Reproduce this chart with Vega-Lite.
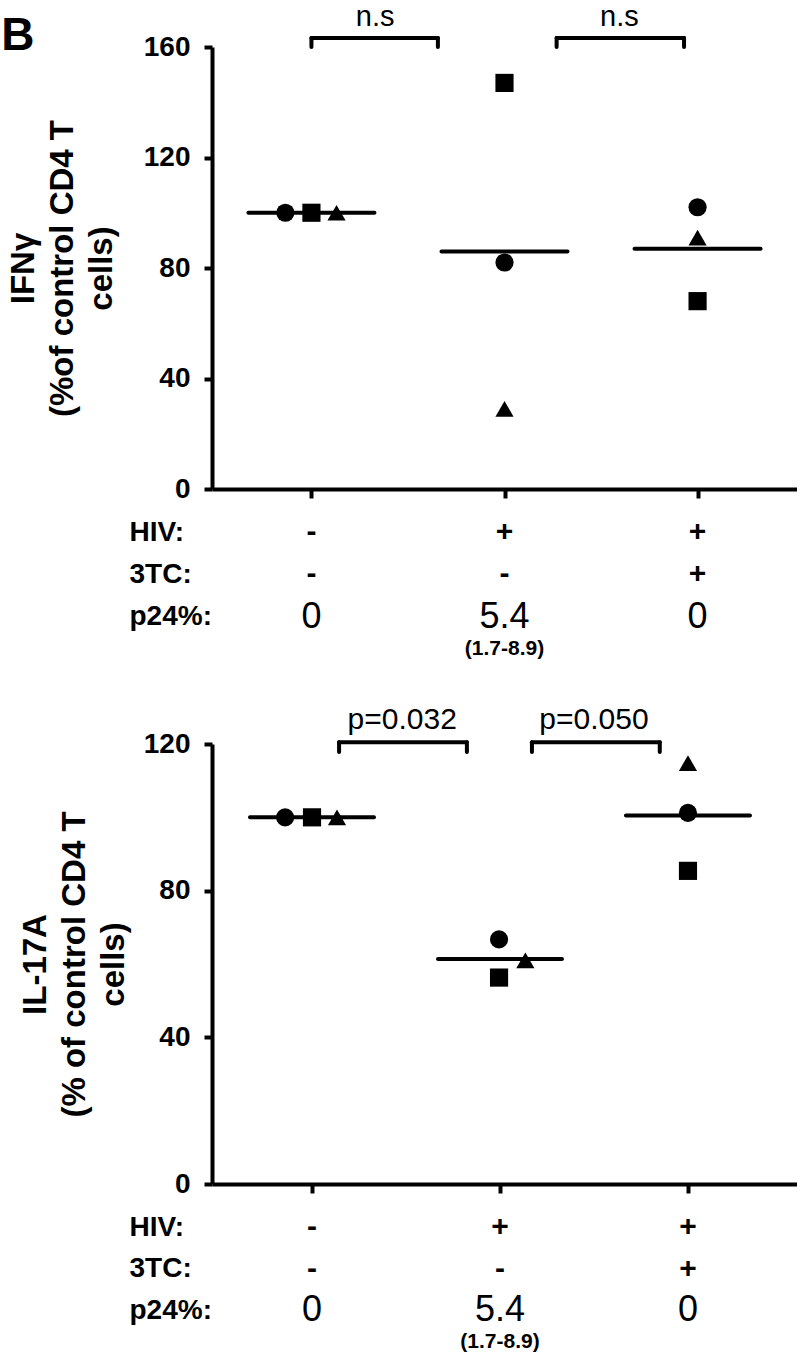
{
  "$schema": "https://vega.github.io/schema/vega-lite/v6.json",
  "padding": {"left": 1, "top": 3, "right": 0, "bottom": 0},
  "title": {"text": "B", "anchor": "start", "frame": "bounds", "fontSize": 46, "fontWeight": "bold", "font": "Liberation Sans", "color": "black", "offset": -57, "dx": -6},
  "config": {
    "font": "Liberation Sans",
    "view": {"stroke": null},
    "axis": {"domainColor": "black", "tickColor": "black", "labelColor": "black", "titleColor": "black", "grid": false, "domainWidth": 4, "tickWidth": 4, "tickSize": 8}
  },
  "bounds": "flush",
  "spacing": 43,
  "datasets": {
    "ifng": [
      {"donor": "circle", "group": 1, "x": 0.865, "value": 100},
      {"donor": "square", "group": 1, "x": 1.0, "value": 100},
      {"donor": "triangle", "group": 1, "x": 1.13, "value": 100},
      {"donor": "circle", "group": 2, "x": 2.0, "value": 82},
      {"donor": "square", "group": 2, "x": 2.0, "value": 147},
      {"donor": "triangle", "group": 2, "x": 2.0, "value": 29},
      {"donor": "circle", "group": 3, "x": 3.0, "value": 102},
      {"donor": "square", "group": 3, "x": 3.0, "value": 68},
      {"donor": "triangle", "group": 3, "x": 3.0, "value": 91}
    ],
    "il17": [
      {"donor": "circle", "group": 1, "x": 0.857, "value": 100},
      {"donor": "square", "group": 1, "x": 1.0, "value": 100},
      {"donor": "triangle", "group": 1, "x": 1.133, "value": 100},
      {"donor": "circle", "group": 2, "x": 1.995, "value": 66.7},
      {"donor": "square", "group": 2, "x": 1.995, "value": 56.3},
      {"donor": "triangle", "group": 2, "x": 2.135, "value": 61},
      {"donor": "circle", "group": 3, "x": 3.0, "value": 101.2},
      {"donor": "square", "group": 3, "x": 3.0, "value": 85.4},
      {"donor": "triangle", "group": 3, "x": 3.0, "value": 114.8}
    ],
    "brk_top": [
      {"x1": 1.0, "x2": 1.655, "yBar": 163.3, "yEnd": 160, "xm": 1.33, "yText": 167.6, "label": "n.s"},
      {"x1": 2.27, "x2": 2.93, "yBar": 163.3, "yEnd": 160, "xm": 2.595, "yText": 167.6, "label": "n.s"}
    ],
    "brk_bot": [
      {"x1": 1.144, "x2": 1.824, "yBar": 120.5, "yEnd": 117.8, "xm": 1.48, "yText": 124.1, "label": "p=0.032"},
      {"x1": 2.17, "x2": 2.85, "yBar": 120.5, "yEnd": 117.8, "xm": 2.5, "yText": 124.1, "label": "p=0.050"}
    ],
    "table": [
      {"group": 1, "row": "HIV", "kind": "sign", "text": "-"},
      {"group": 2, "row": "HIV", "kind": "sign", "text": "+"},
      {"group": 3, "row": "HIV", "kind": "sign", "text": "+"},
      {"group": 1, "row": "3TC", "kind": "sign", "text": "-"},
      {"group": 2, "row": "3TC", "kind": "sign", "text": "-"},
      {"group": 3, "row": "3TC", "kind": "sign", "text": "+"},
      {"group": 1, "row": "p24", "kind": "value", "text": "0"},
      {"group": 2, "row": "p24", "kind": "value", "text": "5.4"},
      {"group": 3, "row": "p24", "kind": "value", "text": "0"},
      {"group": 2, "row": "p24", "kind": "range", "text": "(1.7-8.9)"}
    ]
  },
  "vconcat": [
    {
      "width": 585, "height": 442,
      "layer": [
        {
          "data": {"name": "ifng"},
          "mark": {"type": "tick", "orient": "horizontal", "size": 130, "thickness": 4, "color": "black", "cornerRadius": 2},
          "encoding": {
            "x": {"field": "group", "type": "quantitative", "scale": {"domain": [0.485, 3.515], "nice": false, "zero": false},
                  "axis": {"values": [1, 2, 3], "labels": false, "title": null, "tickSize": 9}},
            "y": {"aggregate": "mean", "field": "value", "type": "quantitative", "scale": {"domain": [0, 160], "nice": false},
                  "axis": {"values": [0, 40, 80, 120, 160], "title": ["IFNγ", "(%of control CD4 T", "cells)"], "titleFontSize": 33, "titleFontWeight": "bold", "titleLineHeight": 39, "titlePadding": 25, "labelFontSize": 28, "labelFontWeight": "bold", "labelPadding": 14}}
          }
        },
        {
          "data": {"name": "ifng"},
          "mark": {"type": "point", "filled": true, "color": "black", "opacity": 1, "size": 330},
          "encoding": {
            "x": {"field": "x", "type": "quantitative"},
            "y": {"field": "value", "type": "quantitative"},
            "shape": {"field": "donor", "type": "nominal", "scale": {"domain": ["circle", "square", "triangle"], "range": ["circle", "square", "triangle-up"]}, "legend": null}
          }
        },
        {
          "data": {"name": "brk_top"},
          "mark": {"type": "rule", "strokeWidth": 4, "color": "black", "strokeCap": "round"},
          "encoding": {"x": {"field": "x1", "type": "quantitative"}, "x2": {"field": "x2"}, "y": {"field": "yBar", "type": "quantitative"}}
        },
        {
          "data": {"name": "brk_top"},
          "mark": {"type": "rule", "strokeWidth": 4, "color": "black", "strokeCap": "round"},
          "encoding": {"x": {"field": "x1", "type": "quantitative"}, "y": {"field": "yBar", "type": "quantitative"}, "y2": {"field": "yEnd"}}
        },
        {
          "data": {"name": "brk_top"},
          "mark": {"type": "rule", "strokeWidth": 4, "color": "black", "strokeCap": "round"},
          "encoding": {"x": {"field": "x2", "type": "quantitative"}, "y": {"field": "yBar", "type": "quantitative"}, "y2": {"field": "yEnd"}}
        },
        {
          "data": {"name": "brk_top"},
          "mark": {"type": "text", "fontSize": 29, "baseline": "alphabetic", "color": "black"},
          "encoding": {"x": {"field": "xm", "type": "quantitative"}, "y": {"field": "yText", "type": "quantitative"}, "text": {"field": "label"}}
        }
      ]
    },
    {
      "width": 585, "height": 169,
      "data": {"name": "table"},
      "encoding": {
        "x": {"field": "group", "type": "quantitative", "scale": {"domain": [0.485, 3.515], "nice": false, "zero": false}, "axis": null},
        "y": {"field": "row", "type": "ordinal", "scale": {"type": "point", "domain": ["HIV", "3TC", "p24"], "padding": 1, "align": 0},
              "axis": {"title": null, "domain": false, "ticks": false, "tickSize": 0, "labelAlign": "left", "labelBaseline": "middle", "labelPadding": 83, "labelFontSize": 28, "labelFontWeight": "bold", "labelExpr": "datum.value == 'p24' ? 'p24%:' : datum.value + ':'"}},
        "text": {"field": "text"}
      },
      "layer": [
        {"transform": [{"filter": "datum.kind == 'sign'"}], "mark": {"type": "text", "fontSize": 30, "fontWeight": "bold", "baseline": "middle", "color": "black"}},
        {"transform": [{"filter": "datum.kind == 'value'"}], "mark": {"type": "text", "fontSize": 36, "baseline": "middle", "color": "black"}},
        {"transform": [{"filter": "datum.kind == 'range'"}], "mark": {"type": "text", "fontSize": 21, "fontWeight": "bold", "baseline": "middle", "dy": 32, "color": "black"}}
      ]
    },
    {
      "width": 585, "height": 440,
      "layer": [
        {
          "data": {"name": "il17"},
          "mark": {"type": "tick", "orient": "horizontal", "size": 128, "thickness": 4, "color": "black", "cornerRadius": 2},
          "encoding": {
            "x": {"field": "group", "type": "quantitative", "scale": {"domain": [0.468, 3.58], "nice": false, "zero": false},
                  "axis": {"values": [1, 2, 3], "labels": false, "title": null, "tickSize": 9}},
            "y": {"aggregate": "mean", "field": "value", "type": "quantitative", "scale": {"domain": [0, 120], "nice": false},
                  "axis": {"values": [0, 40, 80, 120], "title": ["IL-17A", "(% of control CD4 T", "cells)"], "titleFontSize": 33, "titleFontWeight": "bold", "titleLineHeight": 39, "titlePadding": 13, "labelFontSize": 28, "labelFontWeight": "bold", "labelPadding": 14}}
          }
        },
        {
          "data": {"name": "il17"},
          "mark": {"type": "point", "filled": true, "color": "black", "opacity": 1, "size": 330},
          "encoding": {
            "x": {"field": "x", "type": "quantitative"},
            "y": {"field": "value", "type": "quantitative"},
            "shape": {"field": "donor", "type": "nominal", "scale": {"domain": ["circle", "square", "triangle"], "range": ["circle", "square", "triangle-up"]}, "legend": null}
          }
        },
        {
          "data": {"name": "brk_bot"},
          "mark": {"type": "rule", "strokeWidth": 4, "color": "black", "strokeCap": "round"},
          "encoding": {"x": {"field": "x1", "type": "quantitative"}, "x2": {"field": "x2"}, "y": {"field": "yBar", "type": "quantitative"}}
        },
        {
          "data": {"name": "brk_bot"},
          "mark": {"type": "rule", "strokeWidth": 4, "color": "black", "strokeCap": "round"},
          "encoding": {"x": {"field": "x1", "type": "quantitative"}, "y": {"field": "yBar", "type": "quantitative"}, "y2": {"field": "yEnd"}}
        },
        {
          "data": {"name": "brk_bot"},
          "mark": {"type": "rule", "strokeWidth": 4, "color": "black", "strokeCap": "round"},
          "encoding": {"x": {"field": "x2", "type": "quantitative"}, "y": {"field": "yBar", "type": "quantitative"}, "y2": {"field": "yEnd"}}
        },
        {
          "data": {"name": "brk_bot"},
          "mark": {"type": "text", "fontSize": 30, "baseline": "alphabetic", "color": "black"},
          "encoding": {"x": {"field": "xm", "type": "quantitative"}, "y": {"field": "yText", "type": "quantitative"}, "text": {"field": "label"}}
        }
      ]
    },
    {
      "width": 585, "height": 83,
      "data": {"name": "table"},
      "encoding": {
        "x": {"field": "group", "type": "quantitative", "scale": {"domain": [0.468, 3.58], "nice": false, "zero": false}, "axis": null},
        "y": {"field": "row", "type": "ordinal", "scale": {"type": "point", "domain": ["HIV", "3TC", "p24"], "padding": 0},
              "axis": {"title": null, "domain": false, "ticks": false, "tickSize": 0, "labelAlign": "left", "labelBaseline": "middle", "labelPadding": 83, "labelFontSize": 28, "labelFontWeight": "bold", "labelExpr": "datum.value == 'p24' ? 'p24%:' : datum.value + ':'"}},
        "text": {"field": "text"}
      },
      "layer": [
        {"transform": [{"filter": "datum.kind == 'sign'"}], "mark": {"type": "text", "fontSize": 30, "fontWeight": "bold", "baseline": "middle", "color": "black"}},
        {"transform": [{"filter": "datum.kind == 'value'"}], "mark": {"type": "text", "fontSize": 36, "baseline": "middle", "color": "black"}},
        {"transform": [{"filter": "datum.kind == 'range'"}], "mark": {"type": "text", "fontSize": 21, "fontWeight": "bold", "baseline": "middle", "dy": 32, "color": "black"}}
      ]
    }
  ]
}
